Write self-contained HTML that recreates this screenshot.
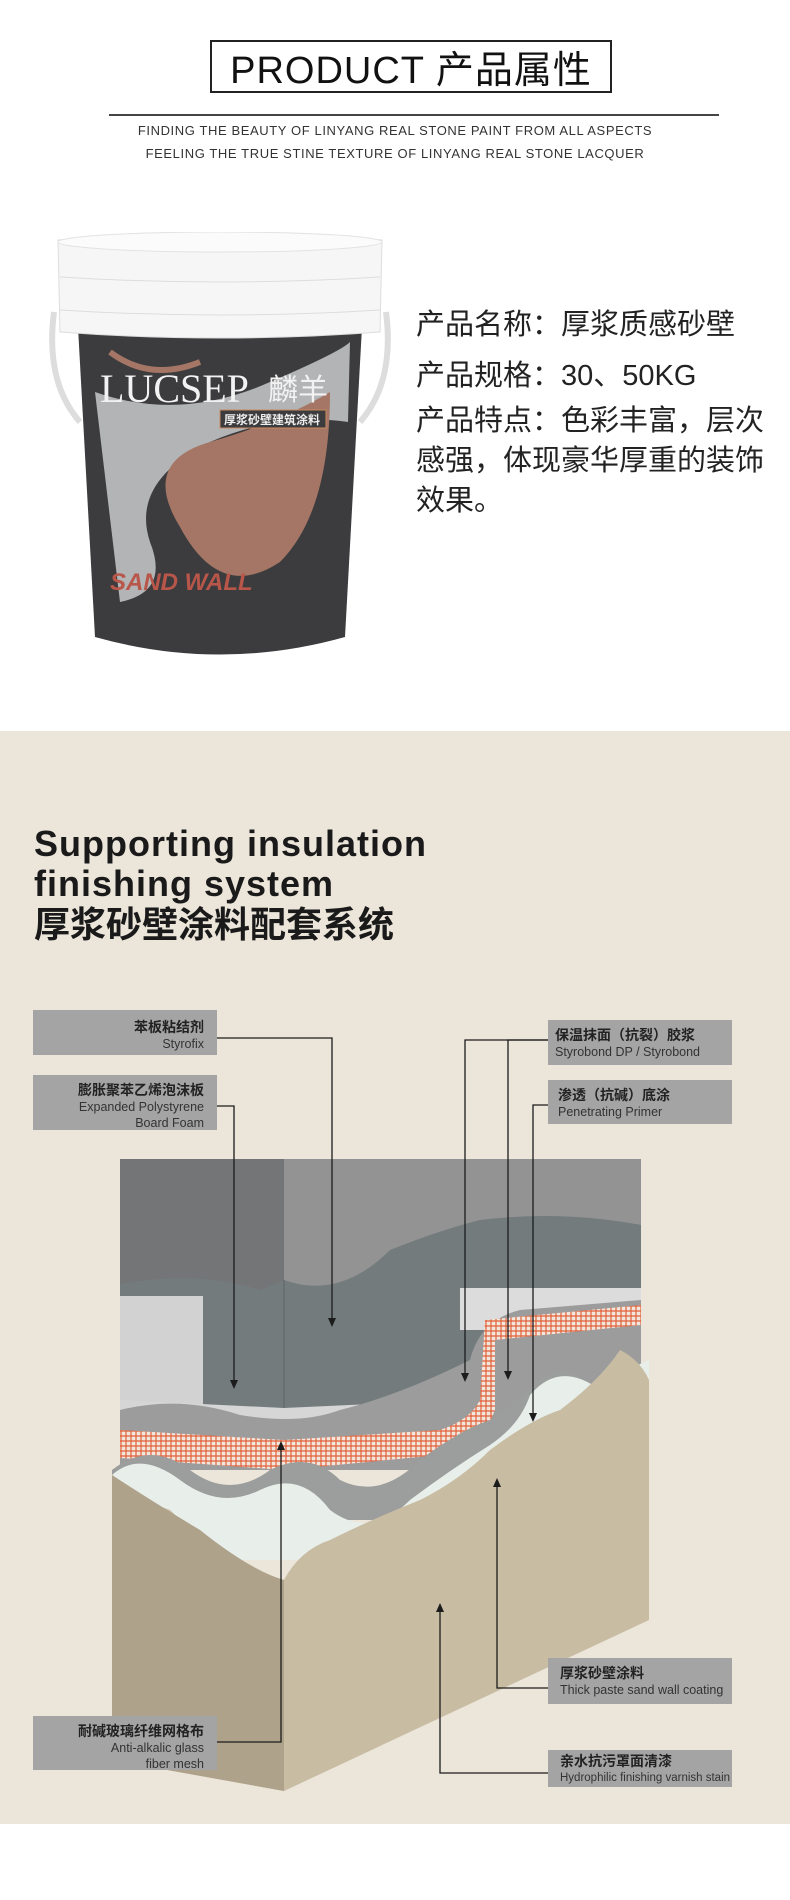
<!DOCTYPE html>
<html><head><meta charset="utf-8">
<style>
*{margin:0;padding:0;box-sizing:border-box}
body{width:790px;height:1900px;background:#fff;position:relative;overflow:hidden;font-family:"Liberation Sans","Noto Sans CJK SC",sans-serif;color:#222}
.abs{position:absolute}
.title{left:210px;top:40px;width:402px;height:53px;border:2px solid #222;font-size:38px;text-align:center;line-height:50px;letter-spacing:1px;color:#111}
.sub{left:0;width:790px;text-align:center;font-size:13px;letter-spacing:0.6px;color:#333}
.spec{left:416px;font-size:29px;color:#222;line-height:39px;font-family:"Liberation Sans","Noto Sans CJK SC",sans-serif}
.beige{left:0;top:731px;width:790px;height:1093px;background:#ebe5da}
.h{left:34px;font-weight:bold;color:#1a1a1a}
.box{background:#a4a4a4;font-family:"Noto Sans CJK SC","Liberation Sans",sans-serif}
.box .cn{font-weight:bold;font-size:14px;color:#222;line-height:18px}
.box .en{font-size:12.5px;color:#333;line-height:16px;font-family:"Liberation Sans",sans-serif}
.L{text-align:right;padding:8px 13px 0 0}
.R{text-align:left;padding:6px 0 0 8px}
</style></head><body>
<div class="abs title">PRODUCT <span style="font-family:'Noto Sans CJK SC',sans-serif">产品属性</span></div>
<div class="abs" style="left:109px;top:114px;width:610px;height:1.5px;background:#444"></div>
<div class="abs sub" style="top:123px;">FINDING THE BEAUTY OF LINYANG REAL STONE PAINT FROM ALL ASPECTS</div>
<div class="abs sub" style="top:146px;">FEELING THE TRUE STINE TEXTURE OF LINYANG REAL STONE LACQUER</div>

<svg class="abs" style="left:40px;top:232px" width="360" height="435" viewBox="0 0 360 435">
 <path d="M14 80 Q5 150 40 190" stroke="#ddd" stroke-width="6" fill="none"/>
 <path d="M346 80 Q355 150 320 190" stroke="#ddd" stroke-width="6" fill="none"/>
 <path d="M38 95 L322 95 L305 405 Q180 440 55 405 Z" fill="#3c3c3e"/>
 <path d="M55 160 Q140 190 230 150 Q300 120 310 110 L308 190 Q240 180 170 210 Q90 250 110 310 Q130 360 80 370 Z" fill="#b2b4b6"/>
 <path d="M140 295 Q100 230 170 210 Q240 190 290 160 Q290 280 240 330 Q180 370 140 295Z" fill="#a57665"/>
 <path d="M70 120 Q110 150 160 130" stroke="#a57665" stroke-width="6" fill="none"/>
 <text x="60" y="170" fill="#f2f2f2" font-family="Liberation Serif,serif" font-size="40">LUCSEP</text>
 <text x="228" y="168" fill="#f2f2f2" font-family="Noto Sans CJK SC,sans-serif" font-size="30">麟羊</text>
 <rect x="180" y="178" width="106" height="18" fill="#3c3c3e" stroke="#c98a60"/>
 <text x="184" y="192" fill="#eee" font-family="Noto Sans CJK SC,sans-serif" font-size="12" font-weight="bold">厚浆砂壁建筑涂料</text>
 <text x="70" y="358" fill="#b8564a" font-family="Liberation Sans,sans-serif" font-size="24" font-weight="bold" font-style="italic">SAND WALL</text>
 <path d="M18 8 Q180 -4 342 8 L340 100 Q180 112 20 100 Z" fill="#f6f6f6" stroke="#ddd"/>
 <ellipse cx="180" cy="10" rx="162" ry="10" fill="#fbfbfb" stroke="#e3e3e3"/>
 <path d="M20 45 Q180 55 340 45" stroke="#ddd" fill="none"/>
 <path d="M20 78 Q180 88 340 78" stroke="#ddd" fill="none"/>
</svg>

<div class="abs spec" style="top:306px">产品名称：厚浆质感砂壁</div>
<div class="abs spec" style="top:357px">产品规格：30、50KG</div>
<div class="abs spec" style="top:401px;width:372px;line-height:40px">产品特点：色彩丰富，层次<br>感强，体现豪华厚重的装饰<br>效果。</div>

<div class="abs beige"></div>
<div class="abs h" style="top:823px;font-size:36px;letter-spacing:1px">Supporting insulation</div>
<div class="abs h" style="top:863px;font-size:36px;letter-spacing:1px">finishing system</div>
<div class="abs h" style="top:900px;font-size:36px;font-family:'Noto Sans CJK SC',sans-serif;line-height:44px">厚浆砂壁涂料配套系统</div>

<svg class="abs" style="left:0;top:1000px" width="790" height="820" viewBox="0 1000 790 820">
 <defs>
  <pattern id="mesh" width="5" height="5" patternUnits="userSpaceOnUse"><rect width="5" height="5" fill="#f3e6dc"/><path d="M0 1 H5 M1 0 V5" stroke="#e0603a" stroke-width="1.2"/></pattern>
 </defs>
 <rect x="120" y="1159" width="164" height="150" fill="#747576"/>
 <rect x="284" y="1159" width="357" height="150" fill="#939393"/>
 <path d="M120 1284 Q200 1270 260 1290 L284 1280 Q340 1300 390 1250 Q440 1230 480 1220 Q560 1210 641 1225 L641 1420 L120 1420Z" fill="#737b7d"/>
 <path d="M284 1280 L284 1420" stroke="#5e6466"/>
 <rect x="120" y="1296" width="83" height="110" fill="#d2d2d2"/>
 <path d="M460 1288 H641 V1330 H460Z" fill="#dcdcdc"/>
 <path d="M120 1400 L284 1408 L460 1400 L641 1330 L641 1440 L120 1440Z" fill="#d6d6d6"/>
 <path d="M120 1410 Q180 1395 240 1415 Q300 1425 340 1410 Q400 1395 470 1360 Q480 1320 520 1310 L641 1300 V1470 H120Z" fill="#9c9c9c"/>
 <path d="M120 1430 L284 1440 L440 1430 Q470 1420 480 1400 L485 1320 L641 1305 L641 1325 L495 1340 L495 1410 Q480 1450 440 1455 L284 1470 L120 1458Z" fill="url(#mesh)"/>
 <path d="M112 1470 Q150 1440 190 1470 Q230 1500 270 1470 Q310 1450 340 1480 Q380 1500 420 1460 Q460 1430 490 1420 Q520 1400 540 1380 Q570 1360 590 1390 Q620 1370 641 1360 V1520 H112Z" fill="#9c9e9e"/>
 <path d="M112 1475 Q140 1450 180 1480 Q220 1510 260 1490 Q300 1470 330 1510 Q370 1540 410 1500 Q450 1470 490 1445 Q520 1425 530 1395 Q560 1360 600 1390 Q625 1370 649 1360 V1560 H112Z" fill="#e8efeb"/>
 <path d="M112 1475 Q140 1500 170 1510 Q200 1540 230 1560 Q260 1580 284 1580 Q300 1550 330 1540 Q370 1520 420 1500 Q460 1480 490 1450 Q530 1420 560 1410 Q600 1380 620 1350 Q640 1360 649 1380 L649 1620 L284 1791 L112 1760Z" fill="#c8bca3"/>
 <path d="M112 1475 Q150 1500 200 1530 Q250 1570 284 1580 L284 1791 L112 1760Z" fill="#aea28a"/>
 <g stroke="#1c1c1c" stroke-width="1.3" fill="none">
  <path d="M217 1038 H332 V1320"/><path d="M217 1106 H234 V1382"/>
  <path d="M217 1742 H281 V1448"/>
  <path d="M548 1040 H465 V1375"/><path d="M548 1040 H508 V1373"/>
  <path d="M548 1105 H533 V1415"/>
  <path d="M548 1688 H497 V1485"/><path d="M548 1773 H440 V1610"/>
 </g>
 <g fill="#1c1c1c">
  <path d="M328 1318 L336 1318 L332 1327Z"/><path d="M230 1380 L238 1380 L234 1389Z"/>
  <path d="M461 1373 L469 1373 L465 1382Z"/><path d="M504 1371 L512 1371 L508 1380Z"/>
  <path d="M529 1413 L537 1413 L533 1422Z"/>
  <path d="M277 1450 L285 1450 L281 1441Z"/><path d="M493 1487 L501 1487 L497 1478Z"/><path d="M436 1612 L444 1612 L440 1603Z"/>
 </g>
</svg>

<div class="abs box L" style="left:33px;top:1010px;width:184px;height:45px"><div class="cn">苯板粘结剂</div><div class="en">Styrofix</div></div>
<div class="abs box L" style="left:33px;top:1075px;width:184px;height:55px;padding-top:6px"><div class="cn">膨胀聚苯乙烯泡沫板</div><div class="en">Expanded Polystyrene<br>Board Foam</div></div>
<div class="abs box L" style="left:33px;top:1716px;width:184px;height:54px;padding-top:6px"><div class="cn">耐碱玻璃纤维网格布</div><div class="en">Anti-alkalic glass<br>fiber mesh</div></div>
<div class="abs box R" style="left:548px;top:1020px;width:184px;height:45px;padding-left:7px"><div class="cn">保温抹面（抗裂）胶浆</div><div class="en">Styrobond DP / Styrobond</div></div>
<div class="abs box R" style="left:548px;top:1080px;width:184px;height:44px;padding-left:10px"><div class="cn">渗透（抗碱）底涂</div><div class="en">Penetrating Primer</div></div>
<div class="abs box R" style="left:548px;top:1658px;width:184px;height:46px;padding-left:12px"><div class="cn">厚浆砂壁涂料</div><div class="en">Thick paste sand wall coating</div></div>
<div class="abs box R" style="left:548px;top:1750px;width:184px;height:37px;padding-top:2px;padding-left:12px"><div class="cn">亲水抗污罩面清漆</div><div class="en" style="font-size:11.5px">Hydrophilic finishing varnish stain</div></div>
</body></html>
